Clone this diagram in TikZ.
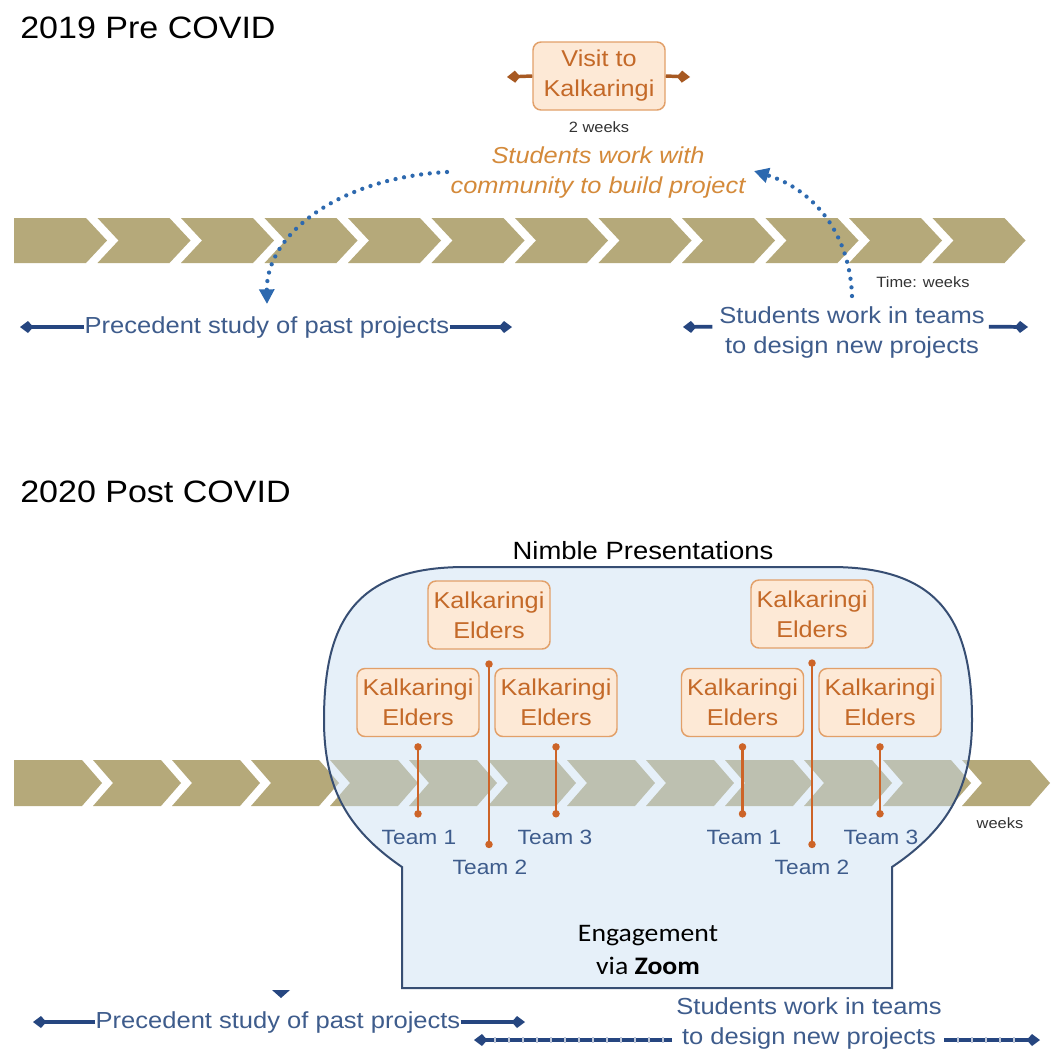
\documentclass[tikz,border=0pt]{standalone}
\usepackage{fontspec}
\setmainfont{Liberation Sans}[FakeStretch=1.1]
\newfontfamily\calib{Carlito}[FakeStretch=1.1]
\usetikzlibrary{arrows.meta}
\newcommand{\fsz}[2]{\fontsize{#1}{#2}\selectfont}
\definecolor{chev}{RGB}{181,169,122}
\definecolor{bluetxt}{RGB}{62,92,140}
\definecolor{bluearr}{RGB}{38,70,128}
\definecolor{dotblue}{RGB}{45,105,175}
\definecolor{orangetxt}{RGB}{196,105,40}
\definecolor{orangeit}{RGB}{212,138,58}
\definecolor{boxfill}{RGB}{253,233,214}
\definecolor{boxline}{RGB}{226,160,105}
\definecolor{connor}{RGB}{205,100,40}
\definecolor{bulbfill}{RGB}{200,222,242}
\definecolor{bulbline}{RGB}{55,78,115}
\tikzset{
  titletxt/.style={inner sep=0pt, font=\fsz{23.2}{28}, text=black},
  smalltxt/.style={inner sep=0pt, font=\fsz{11.2}{13}, text=black!80},
  btxt/.style={inner sep=0pt, font=\fsz{17.4}{22.5}, text=bluetxt, align=center},
  teamtxt/.style={inner sep=0pt, font=\fsz{15.5}{18}, text=bluetxt},
  ebox/.style={draw=boxline, fill=boxfill, line width=1.1pt, rounded corners=6pt,
    minimum width=91.5pt, minimum height=51pt, inner sep=0pt, align=center,
    text=orangetxt, font=\fsz{17.2}{22.5}},
  oarrow/.style={draw=orangetxt!85!black, line width=2.6pt, -{Kite[length=10pt,width=9pt,inset=4pt]}},
  barrow/.style={draw=bluearr, line width=2.8pt, -{Kite[length=10pt,width=9pt,inset=4pt]}},
  dotarc/.style={draw=dotblue, line width=3.2pt, line cap=round, dash pattern=on 0pt off 6.5pt,
    -{Triangle[length=11pt,width=11pt]}},
  conn/.style={draw=connor, line width=1.6pt, {Circle[length=5.5pt]}-{Circle[length=5.5pt]}},
}
\begin{document}
\begin{tikzpicture}[x=0.75pt,y=-0.75pt]
\useasboundingbox[fill=white] (0,0) rectangle (1053,1050);

% ---------- 2019 ----------
\node[titletxt, anchor=west] (t1) at (20,28) {2019 Pre COVID};

\foreach \i in {0,...,11}{
  \pgfmathsetmacro{\xa}{14+83.5*\i}
  \pgfmathsetmacro{\nd}{\i==0 ? 0 : 21}
  \fill[chev] (\xa,218) -- (\xa+72,218) -- (\xa+93,240.5) -- (\xa+72,263) -- (\xa,263) -- (\xa+\nd,240.5) -- cycle;
}

\node[ebox, minimum width=99pt] (visit) at (599,76) {Visit to\\Kalkaringi};
\coordinate (vl) at (507,77);
\coordinate (vr) at (690,77);
\draw[oarrow] (visit.west) -- (vl);
\draw[oarrow] (visit.east) -- (vr);
\node[smalltxt] (twow) at (599,127) {2 weeks};
\node[inner sep=0pt, font=\fsz{17.3}{22.5}\itshape, text=orangeit, align=center] (swith) at (598,173) {Students work with\\community to build project};

\coordinate (a1s) at (447,172);
\coordinate (a1e) at (267,304);
\draw[dotarc] (a1s) .. controls (338,178) and (266,235) .. (a1e);
\coordinate (a2s) at (852,296);
\coordinate (a2e) at (754,171);
\draw[dotarc] (a2s) .. controls (850,235) and (815,190) .. (a2e);

\node[smalltxt] (tw) at (923,282) {Time: weeks};

\node[btxt] (prec1) at (267,327) {Precedent study of past projects};
\coordinate (p1l) at (20,327);
\coordinate (p1r) at (512,327);
\draw[barrow] (prec1.west) -- (p1l);
\draw[barrow] (prec1.east) -- (p1r);

\node[btxt] (stud1) at (852,332) {Students work in teams\\to design new projects};
\coordinate (s1l) at (683,327);
\coordinate (s1r) at (1028,327);
\draw[barrow] ([xshift=-5pt,yshift=4pt]stud1.west) -- (s1l);
\draw[barrow] ([xshift=3pt,yshift=4pt]stud1.east) -- (s1r);

% ---------- 2020 ----------
\node[titletxt, anchor=west] (t2) at (20,492) {2020 Post COVID};
\node[inner sep=0pt, font=\fsz{18.7}{22}, text=black] (nimble) at (643,551) {Nimble Presentations};

\foreach \i in {0,...,12}{
  \pgfmathsetmacro{\xa}{14+79*\i}
  \pgfmathsetmacro{\nd}{\i==0 ? 0 : 20}
  \fill[chev] (\xa,760) -- (\xa+68,760) -- (\xa+88,783) -- (\xa+68,806) -- (\xa,806) -- (\xa+\nd,783) -- cycle;
}

\def\bulbpath{(402,988) -- (402,867) .. controls (345,828) and (324,785) .. (324,720)
  .. controls (324,622) and (355,567) .. (465,567) -- (831,567)
  .. controls (941,567) and (972,622) .. (972,720)
  .. controls (972,785) and (950,828) .. (892,867) -- (892,988) -- cycle}
\fill[bulbfill, fill opacity=0.45] \bulbpath;
\draw[bulbline, line width=1.5pt] \bulbpath;

\node[ebox] (eT1) at (489,615) {Kalkaringi\\Elders};
\node[ebox] (eL1) at (418,702.5) {Kalkaringi\\Elders};
\node[ebox] (eM1) at (556,702.5) {Kalkaringi\\Elders};
\node[ebox] (eT2) at (812,614) {Kalkaringi\\Elders};
\node[ebox] (eL2) at (742.5,702.5) {Kalkaringi\\Elders};
\node[ebox] (eM2) at (880,702.5) {Kalkaringi\\Elders};

\node[teamtxt] (tA1) at (419,837) {Team 1};
\node[teamtxt] (tC1) at (555,837) {Team 3};
\node[teamtxt] (tB1) at (490,867) {Team 2};
\node[teamtxt] (tA2) at (744,837) {Team 1};
\node[teamtxt] (tC2) at (881,837) {Team 3};
\node[teamtxt] (tB2) at (812,867) {Team 2};

\draw[conn, shorten <=4.5pt, shorten >=9pt] (eL1.south) -- (tA1.north -| eL1.south);
\draw[conn, shorten <=4.5pt, shorten >=9pt] (eM1.south) -- (tC1.north -| eM1.south);
\draw[conn, shorten <=8pt, shorten >=8.5pt] (eT1.south) -- (tB1.north -| eT1.south);
\draw[conn, shorten <=4.5pt, shorten >=9pt] (eL2.south) -- (tA2.north -| eL2.south);
\draw[conn, shorten <=4.5pt, shorten >=9pt] (eM2.south) -- (tC2.north -| eM2.south);
\draw[conn, shorten <=8pt, shorten >=8.5pt] (eT2.south) -- (tB2.north -| eT2.south);

\node[smalltxt] (wk) at (1000,823) {weeks};

\node[inner sep=0pt, font=\calib\fsz{18.9}{24.75}, text=black, align=center] (eng) at (648,949.5) {Engagement\\via \textbf{Zoom}};

% ---------- bottom arrows ----------
\fill[bluearr] (272,990) -- (290,990) -- (281,998) -- cycle;
\node[btxt] (prec2) at (278,1022) {Precedent study of past projects};
\coordinate (p2l) at (33,1022);
\coordinate (p2r) at (525,1022);
\draw[barrow] (prec2.west) -- (p2l);
\draw[barrow] (prec2.east) -- (p2r);

\node[btxt] (stud2) at (809,1023) {Students work in teams\\to design new projects};
\coordinate (s2a) at (672,1040);
\coordinate (s2l) at (474,1040);
\coordinate (s2b) at (944,1040);
\coordinate (s2r) at (1040,1040);
\draw[barrow] (s2a) -- (s2l);
\draw[barrow] (s2b) -- (s2r);
\foreach \x in {495,509,...,665} \draw[white!70!bluearr, line width=0.9pt] (\x,1037) -- (\x,1043);
\foreach \x in {958,972,...,1014} \draw[white!70!bluearr, line width=0.9pt] (\x,1037) -- (\x,1043);
\end{tikzpicture}
\end{document}
